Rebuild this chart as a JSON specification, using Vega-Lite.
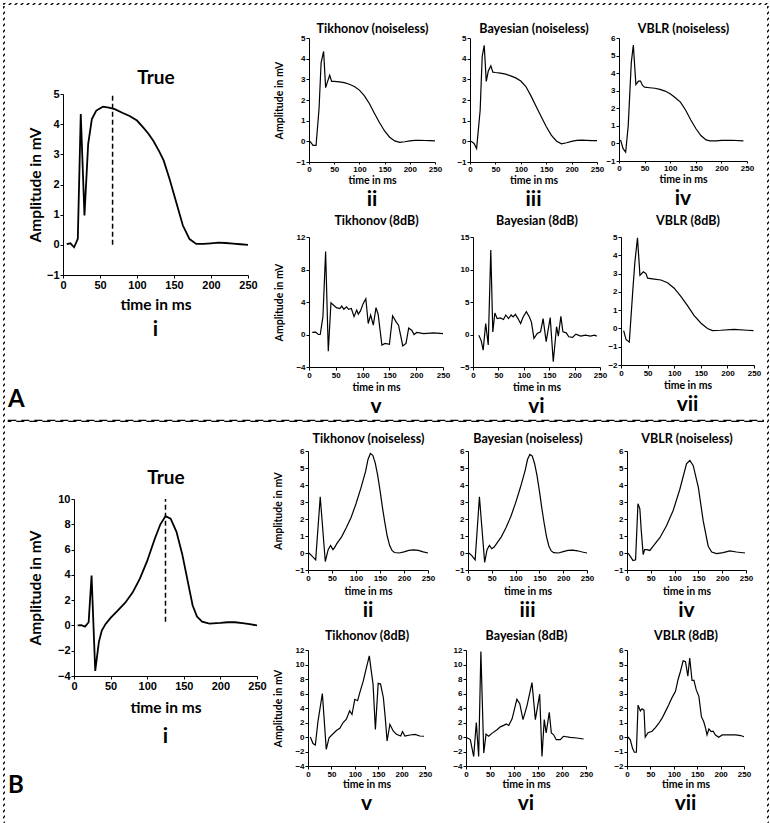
{
"$schema": "https://vega.github.io/schema/vega-lite/v6.json",
"padding": {"left": 2, "top": 2, "right": 0, "bottom": 0},
"background": "white",
"datasets": {
"A1": [{"t":5,"v":0.02},{"t":10,"v":0.05},{"t":15,"v":-0.08},{"t":20,"v":0.2},{"t":24,"v":4.34},{"t":29,"v":0.97},{"t":34,"v":3.34},{"t":39,"v":4.17},{"t":45,"v":4.45},{"t":54,"v":4.58},{"t":62,"v":4.55},{"t":70,"v":4.5},{"t":80,"v":4.38},{"t":90,"v":4.27},{"t":100,"v":4.12},{"t":108,"v":3.9},{"t":115,"v":3.7},{"t":122,"v":3.45},{"t":130,"v":3.1},{"t":136,"v":2.8},{"t":144,"v":2.18},{"t":153,"v":1.41},{"t":162,"v":0.64},{"t":171,"v":0.19},{"t":180,"v":0.03},{"t":190,"v":0.03},{"t":200,"v":0.05},{"t":210,"v":0.07},{"t":220,"v":0.06},{"t":230,"v":0.04},{"t":240,"v":0.02},{"t":250,"v":0.0}],
"A1m": [{"t":67,"a":0,"b":5}],
"A2": [{"t":2,"v":0},{"t":8,"v":-0.2},{"t":14,"v":-0.2},{"t":20,"v":1.6},{"t":24,"v":3.8},{"t":29,"v":4.35},{"t":33,"v":2.6},{"t":37,"v":2.9},{"t":41,"v":3.2},{"t":45,"v":2.9},{"t":50,"v":2.9},{"t":60,"v":2.88},{"t":70,"v":2.84},{"t":80,"v":2.76},{"t":90,"v":2.65},{"t":100,"v":2.48},{"t":110,"v":2.2},{"t":120,"v":1.82},{"t":130,"v":1.35},{"t":140,"v":0.9},{"t":150,"v":0.5},{"t":160,"v":0.2},{"t":170,"v":0.02},{"t":180,"v":-0.05},{"t":190,"v":-0.02},{"t":200,"v":0.02},{"t":210,"v":0.05},{"t":220,"v":0.05},{"t":230,"v":0.04},{"t":240,"v":0.03},{"t":250,"v":0.02}],
"A3": [{"t":2,"v":0},{"t":8,"v":-0.1},{"t":13,"v":-0.35},{"t":20,"v":1.5},{"t":24,"v":4.1},{"t":28,"v":4.65},{"t":32,"v":2.9},{"t":36,"v":3.4},{"t":41,"v":3.65},{"t":45,"v":3.35},{"t":50,"v":3.33},{"t":60,"v":3.3},{"t":70,"v":3.25},{"t":80,"v":3.17},{"t":90,"v":3.07},{"t":100,"v":2.92},{"t":110,"v":2.65},{"t":120,"v":2.2},{"t":130,"v":1.7},{"t":140,"v":1.2},{"t":150,"v":0.72},{"t":160,"v":0.3},{"t":170,"v":0.02},{"t":180,"v":-0.12},{"t":190,"v":-0.07},{"t":200,"v":0.0},{"t":210,"v":0.05},{"t":220,"v":0.06},{"t":230,"v":0.05},{"t":240,"v":0.03},{"t":250,"v":0.03}],
"A4": [{"t":3,"v":0.2},{"t":8,"v":-0.3},{"t":13,"v":-0.5},{"t":18,"v":1.0},{"t":24,"v":4.6},{"t":28,"v":5.6},{"t":33,"v":3.35},{"t":38,"v":3.55},{"t":42,"v":3.55},{"t":46,"v":3.3},{"t":50,"v":3.2},{"t":60,"v":3.17},{"t":70,"v":3.14},{"t":80,"v":3.08},{"t":90,"v":2.98},{"t":100,"v":2.83},{"t":110,"v":2.6},{"t":120,"v":2.35},{"t":130,"v":1.9},{"t":140,"v":1.35},{"t":150,"v":0.85},{"t":160,"v":0.45},{"t":170,"v":0.2},{"t":178,"v":0.15},{"t":190,"v":0.15},{"t":200,"v":0.17},{"t":220,"v":0.18},{"t":243,"v":0.15}],
"A5": [{"t":6,"v":0.25},{"t":12.5,"v":0.3},{"t":17.5,"v":0.0},{"t":21,"v":0.0},{"t":26,"v":2.2},{"t":31,"v":10.2},{"t":36,"v":-2.05},{"t":41,"v":3.9},{"t":46,"v":3.6},{"t":51,"v":3.3},{"t":57.5,"v":3.2},{"t":61,"v":3.5},{"t":65,"v":3.1},{"t":70,"v":3.4},{"t":74,"v":3.1},{"t":79,"v":3.2},{"t":84,"v":2.2},{"t":89,"v":3.0},{"t":92,"v":2.5},{"t":96,"v":2.9},{"t":101,"v":3.8},{"t":106,"v":4.4},{"t":110.5,"v":1.35},{"t":115,"v":2.4},{"t":120,"v":1.15},{"t":125,"v":3.3},{"t":129,"v":2.5},{"t":136,"v":-1.3},{"t":142,"v":-1.1},{"t":150,"v":-1.2},{"t":156,"v":2.3},{"t":162.5,"v":1.55},{"t":167,"v":1.15},{"t":175,"v":-1.4},{"t":181,"v":-1.1},{"t":186,"v":0.8},{"t":192,"v":0.5},{"t":196,"v":0.0},{"t":201,"v":0.25},{"t":214,"v":0.1},{"t":232.5,"v":0.2},{"t":250,"v":0.1}],
"A6": [{"t":11.4,"v":-0.1},{"t":16,"v":-0.9},{"t":20,"v":-2.4},{"t":25,"v":1.7},{"t":30,"v":-1.6},{"t":35,"v":13.0},{"t":39,"v":0.4},{"t":43,"v":3.3},{"t":47.5,"v":2.45},{"t":54,"v":2.55},{"t":60,"v":2.3},{"t":64.5,"v":3.0},{"t":70,"v":2.45},{"t":75,"v":3.0},{"t":79,"v":2.7},{"t":83.5,"v":3.1},{"t":88.6,"v":2.45},{"t":93.7,"v":1.7},{"t":98.7,"v":2.7},{"t":105,"v":3.5},{"t":111,"v":2.7},{"t":115,"v":1.9},{"t":120,"v":-0.6},{"t":126.6,"v":0.15},{"t":133,"v":0.4},{"t":138,"v":2.45},{"t":144,"v":-1.1},{"t":152,"v":2.6},{"t":158,"v":-4.2},{"t":164.5,"v":1.2},{"t":168,"v":-0.25},{"t":173,"v":2.8},{"t":177,"v":0.4},{"t":183.5,"v":0.25},{"t":188.6,"v":-0.35},{"t":196,"v":-0.45},{"t":202.5,"v":0.05},{"t":212,"v":-0.25},{"t":221.5,"v":-0.1},{"t":231,"v":-0.25},{"t":239,"v":-0.1},{"t":243.7,"v":-0.25}],
"A7": [{"t":5,"v":-0.12},{"t":9.4,"v":-0.6},{"t":15.6,"v":-0.75},{"t":22,"v":2.0},{"t":26,"v":3.6},{"t":31,"v":4.95},{"t":35.6,"v":2.9},{"t":42,"v":3.1},{"t":47,"v":3.0},{"t":50,"v":2.75},{"t":62.5,"v":2.7},{"t":75,"v":2.65},{"t":87.5,"v":2.5},{"t":100,"v":2.2},{"t":112.5,"v":1.75},{"t":125,"v":1.25},{"t":137.5,"v":0.7},{"t":150,"v":0.3},{"t":162.5,"v":0.0},{"t":172,"v":-0.12},{"t":187.5,"v":-0.1},{"t":212.5,"v":-0.05},{"t":237.5,"v":-0.1},{"t":249,"v":-0.12}],
"B1": [{"t":5,"v":0},{"t":10,"v":0.02},{"t":15,"v":-0.1},{"t":20,"v":0.25},{"t":24,"v":3.95},{"t":29,"v":-3.6},{"t":34,"v":-1.3},{"t":38,"v":-0.4},{"t":43,"v":0.1},{"t":50,"v":0.6},{"t":60,"v":1.2},{"t":70,"v":1.8},{"t":80,"v":2.6},{"t":90,"v":3.7},{"t":100,"v":5.1},{"t":110,"v":6.8},{"t":118,"v":8.0},{"t":125,"v":8.65},{"t":132,"v":8.45},{"t":140,"v":7.4},{"t":148,"v":5.6},{"t":155,"v":3.6},{"t":162,"v":1.6},{"t":168,"v":0.7},{"t":175,"v":0.3},{"t":185,"v":0.15},{"t":200,"v":0.2},{"t":210,"v":0.25},{"t":220,"v":0.25},{"t":230,"v":0.18},{"t":240,"v":0.1},{"t":250,"v":0.0}],
"B1m": [{"t":125,"a":0.3,"b":10}],
"B2": [{"t":2,"v":0},{"t":9,"v":-0.2},{"t":16,"v":-0.4},{"t":25.5,"v":3.3},{"t":36,"v":-0.5},{"t":42,"v":0.2},{"t":47,"v":0.45},{"t":52,"v":0.2},{"t":55,"v":0.3},{"t":60,"v":0.55},{"t":70,"v":0.95},{"t":80,"v":1.5},{"t":90,"v":2.1},{"t":100,"v":2.9},{"t":110,"v":3.8},{"t":115,"v":4.3},{"t":120,"v":4.8},{"t":125,"v":5.5},{"t":130,"v":5.85},{"t":135,"v":5.75},{"t":140,"v":5.3},{"t":145,"v":4.6},{"t":150,"v":3.7},{"t":155,"v":2.7},{"t":160,"v":1.8},{"t":165,"v":1.0},{"t":170,"v":0.45},{"t":175,"v":0.15},{"t":180,"v":0.03},{"t":190,"v":0.0},{"t":200,"v":0.07},{"t":210,"v":0.15},{"t":220,"v":0.18},{"t":230,"v":0.15},{"t":240,"v":0.07},{"t":250,"v":0.0}],
"B3": [{"t":2,"v":0},{"t":8,"v":-0.15},{"t":15,"v":-0.4},{"t":24,"v":3.3},{"t":35,"v":-0.55},{"t":40,"v":0.2},{"t":45,"v":0.45},{"t":50,"v":0.25},{"t":55,"v":0.35},{"t":60,"v":0.55},{"t":70,"v":0.95},{"t":80,"v":1.5},{"t":90,"v":2.15},{"t":100,"v":2.95},{"t":110,"v":3.85},{"t":120,"v":4.85},{"t":125,"v":5.5},{"t":130,"v":5.8},{"t":135,"v":5.7},{"t":140,"v":5.25},{"t":145,"v":4.55},{"t":150,"v":3.65},{"t":155,"v":2.65},{"t":160,"v":1.75},{"t":165,"v":0.95},{"t":170,"v":0.4},{"t":175,"v":0.12},{"t":180,"v":0.02},{"t":190,"v":0.0},{"t":200,"v":0.08},{"t":210,"v":0.15},{"t":220,"v":0.17},{"t":230,"v":0.13},{"t":240,"v":0.06},{"t":250,"v":0.0}],
"B4": [{"t":2,"v":0},{"t":7,"v":-0.2},{"t":12.6,"v":-0.45},{"t":18,"v":-0.4},{"t":23,"v":2.9},{"t":27,"v":2.6},{"t":30,"v":1.3},{"t":34,"v":-0.1},{"t":37,"v":0.2},{"t":42,"v":0.2},{"t":48,"v":0.15},{"t":55,"v":0.4},{"t":69,"v":0.9},{"t":83,"v":1.6},{"t":97,"v":2.5},{"t":111,"v":3.75},{"t":125,"v":5.25},{"t":132,"v":5.45},{"t":139,"v":5.15},{"t":150,"v":3.85},{"t":160,"v":1.9},{"t":170.6,"v":0.4},{"t":178,"v":0.06},{"t":188,"v":-0.04},{"t":202,"v":0.02},{"t":216,"v":0.12},{"t":230,"v":0.06},{"t":248,"v":0}],
"B5": [{"t":5,"v":0},{"t":10.7,"v":-0.9},{"t":15.7,"v":-1.1},{"t":21.4,"v":2.2},{"t":30.7,"v":6.0},{"t":39,"v":-1.7},{"t":45,"v":-0.1},{"t":53.6,"v":0.45},{"t":60.7,"v":0.9},{"t":68,"v":1.2},{"t":75,"v":2.0},{"t":82,"v":2.45},{"t":89,"v":3.6},{"t":94,"v":3.1},{"t":100,"v":5.2},{"t":106,"v":5.0},{"t":111,"v":6.2},{"t":118,"v":7.7},{"t":125,"v":9.6},{"t":131,"v":11.2},{"t":136,"v":8.7},{"t":139,"v":7.3},{"t":144,"v":1.05},{"t":150,"v":7.4},{"t":155,"v":7.3},{"t":161,"v":5.45},{"t":165,"v":2.7},{"t":169,"v":-0.55},{"t":175,"v":1.75},{"t":182,"v":0.83},{"t":189,"v":0.37},{"t":198,"v":0.14},{"t":202,"v":0.75},{"t":207,"v":0.14},{"t":218,"v":0.28},{"t":228.6,"v":0.37},{"t":239,"v":0.14},{"t":248,"v":0.1}],
"B6": [{"t":2,"v":-0.1},{"t":9,"v":-0.35},{"t":16,"v":-2.7},{"t":21.5,"v":2.0},{"t":26.4,"v":-2.7},{"t":31,"v":11.8},{"t":37,"v":-2.2},{"t":41.7,"v":0.4},{"t":47,"v":0.1},{"t":54,"v":0.5},{"t":64.6,"v":1.0},{"t":71.5,"v":1.4},{"t":78.5,"v":1.6},{"t":84,"v":1.8},{"t":89,"v":1.6},{"t":96,"v":2.5},{"t":106,"v":5.2},{"t":112,"v":4.6},{"t":118.75,"v":2.4},{"t":127,"v":4.3},{"t":137.5,"v":7.5},{"t":144.5,"v":2.4},{"t":153.5,"v":5.9},{"t":158.3,"v":-2.7},{"t":163,"v":2.4},{"t":167,"v":0.55},{"t":173.5,"v":3.4},{"t":177.8,"v":0.55},{"t":182.6,"v":0.3},{"t":188,"v":-0.37},{"t":196.5,"v":-0.37},{"t":203,"v":0.1},{"t":217,"v":-0.05},{"t":231,"v":-0.14},{"t":245,"v":-0.28}],
"B7": [{"t":2,"v":0},{"t":7,"v":-0.2},{"t":12,"v":-0.8},{"t":15.7,"v":-1.05},{"t":20,"v":-1.05},{"t":23.6,"v":2.2},{"t":28.6,"v":1.8},{"t":32,"v":1.95},{"t":36.4,"v":1.85},{"t":39,"v":0},{"t":45,"v":0.3},{"t":53.6,"v":0.4},{"t":60.7,"v":0.65},{"t":68,"v":0.95},{"t":75,"v":1.3},{"t":82,"v":1.75},{"t":89,"v":2.2},{"t":96,"v":2.7},{"t":103.6,"v":3.15},{"t":109,"v":3.95},{"t":114,"v":4.5},{"t":120,"v":5.25},{"t":125,"v":5.2},{"t":130,"v":4.2},{"t":134,"v":5.45},{"t":139,"v":3.9},{"t":143,"v":3.9},{"t":148,"v":3.25},{"t":153.6,"v":2.8},{"t":159,"v":1.4},{"t":164,"v":1.05},{"t":168,"v":0.6},{"t":171,"v":0.15},{"t":175,"v":0.55},{"t":180,"v":0.37},{"t":184,"v":0.4},{"t":189,"v":0.14},{"t":196,"v":-0.02},{"t":203.6,"v":0.14},{"t":218,"v":0.14},{"t":232,"v":0.14},{"t":243,"v":0.1},{"t":250,"v":0.02}]
},
"spacing": 0,
"vconcat": [
{"width": 765, "height": 1, "data": {"values": []}, "mark": "point", "view": {"stroke": "black", "strokeDash": [2, 4], "strokeWidth": 1}},
{"hconcat": [
{"width": 1, "height": 816, "data": {"values": []}, "mark": "point", "view": {"stroke": "black", "strokeDash": [2, 4], "strokeWidth": 1}},
{"vconcat": [
{"width": 1, "height": 1, "data": {"values": []}, "mark": "point"},
{"vconcat": [
{"hconcat": [
 {"width": 1, "height": 346, "data": {"values": []}, "mark": "point", "title": {"text": "A", "orient": "bottom", "anchor": "start", "fontSize": 24, "offset": 4}},
 {"hconcat": [
  {"vconcat": [
    {"width": 185, "height": 13, "data": {"values": []}, "mark": "point"},
    {"width": 185, "height": 181,
     "title": {"text": "i", "orient": "bottom", "fontSize": 21, "offset": 6},
     "layer": [
      {"data": {"name": "A1"}, "mark": {"type": "line", "strokeWidth": 1.8, "color": "black"},
       "encoding": {
        "x": {"field": "t", "type": "quantitative", "scale": {"domain": [0, 250], "nice": false}, "axis": {"values": [0, 50, 100, 150, 200, 250], "title": "time in ms", "labelFontSize": 11, "titleFontSize": 15.5, "titlePadding": 7}},
        "y": {"field": "v", "type": "quantitative", "scale": {"domain": [-1, 5], "nice": false, "zero": false}, "axis": {"values": [-1, 0, 1, 2, 3, 4, 5], "title": "Amplitude in mV", "labelFontSize": 11, "titleFontSize": 15.5, "titlePadding": 2.5}}}},
      {"data": {"name": "A1m"}, "mark": {"type": "rule", "strokeDash": [5, 3], "strokeWidth": 1.5, "color": "black"},
       "encoding": {
        "x": {"field": "t", "type": "quantitative", "axis": {"orient": "top", "title": "True", "labels": false, "ticks": false, "domain": false, "titleFontSize": 19, "titlePadding": 7}},
        "y": {"field": "a", "type": "quantitative", "axis": {"values": [-1, 0, 1, 2, 3, 4, 5], "title": "Amplitude in mV", "labelFontSize": 11, "titleFontSize": 15.5, "titlePadding": 2.5}},
        "y2": {"field": "b"}}}
     ],
     "resolve": {"axis": {"x": "independent"}}}
  ], "spacing": 17},
  {"vconcat": [
    {"hconcat": [
      {"width": 126, "height": 124, "data": {"name": "A2"}, "title": {"text": "ii", "orient": "bottom", "fontSize": 21, "offset": 3},
       "layer": [
        {"mark": {"type": "line", "strokeWidth": 1.2, "color": "black"}, "encoding": {
          "x": {"field": "t", "type": "quantitative", "scale": {"domain": [0, 250], "nice": false}, "axis": {"values": [0, 50, 100, 150, 200, 250], "title": "time in ms", "labelFontSize": 8, "titleFontSize": 10.5, "titlePadding": 2, "tickSize": 2}},
          "y": {"field": "v", "type": "quantitative", "scale": {"domain": [-1, 5], "nice": false, "zero": false}, "axis": {"values": [-1, 0, 1, 2, 3, 4, 5], "title": "Amplitude in mV", "labelFontSize": 8, "titleFontSize": 10.5, "titlePadding": 11.5}}}},
        {"mark": {"type": "line", "opacity": 0}, "encoding": {"x": {"field": "t", "type": "quantitative", "axis": {"orient": "top", "title": "Tikhonov (noiseless)", "labels": false, "ticks": false, "domain": false, "titleFontSize": 12.5, "titlePadding": 3}}}}
       ], "resolve": {"axis": {"x": "independent"}}},
      {"hconcat": [
      {"width": 127, "height": 124, "data": {"name": "A3"}, "title": {"text": "iii", "orient": "bottom", "fontSize": 21, "offset": 3},
       "layer": [
        {"mark": {"type": "line", "strokeWidth": 1.2, "color": "black"}, "encoding": {
          "x": {"field": "t", "type": "quantitative", "scale": {"domain": [0, 250], "nice": false}, "axis": {"values": [0, 50, 100, 150, 200, 250], "title": "time in ms", "labelFontSize": 8, "titleFontSize": 10.5, "titlePadding": 2, "tickSize": 2}},
          "y": {"field": "v", "type": "quantitative", "scale": {"domain": [-1, 5], "nice": false, "zero": false}, "axis": {"values": [-1, 0, 1, 2, 3, 4, 5], "title": null, "labelFontSize": 8}}}},
        {"mark": {"type": "line", "opacity": 0}, "encoding": {"x": {"field": "t", "type": "quantitative", "axis": {"orient": "top", "title": "Bayesian (noiseless)", "labels": false, "ticks": false, "domain": false, "titleFontSize": 12.5, "titlePadding": 3}}}}
       ], "resolve": {"axis": {"x": "independent"}}},
      {"width": 128, "height": 123, "data": {"name": "A4"}, "title": {"text": "iv", "orient": "bottom", "fontSize": 21, "offset": 3},
       "layer": [
        {"mark": {"type": "line", "strokeWidth": 1.2, "color": "black"}, "encoding": {
          "x": {"field": "t", "type": "quantitative", "scale": {"domain": [0, 250], "nice": false}, "axis": {"values": [0, 50, 100, 150, 200, 250], "title": "time in ms", "labelFontSize": 8, "titleFontSize": 10.5, "titlePadding": 2, "tickSize": 2}},
          "y": {"field": "v", "type": "quantitative", "scale": {"domain": [-1, 6], "nice": false, "zero": false}, "axis": {"values": [-1, 0, 1, 2, 3, 4, 5, 6], "title": null, "labelFontSize": 8}}}},
        {"mark": {"type": "line", "opacity": 0}, "encoding": {"x": {"field": "t", "type": "quantitative", "axis": {"orient": "top", "title": "VBLR (noiseless)", "labels": false, "ticks": false, "domain": false, "titleFontSize": 12.5, "titlePadding": 3}}}}
       ], "resolve": {"axis": {"x": "independent"}}}
      ], "spacing": 1}
    ], "spacing": 14},
    {"hconcat": [
      {"width": 134, "height": 130, "data": {"name": "A5"}, "title": {"text": "v", "orient": "bottom", "fontSize": 21, "offset": 3},
       "layer": [
        {"mark": {"type": "line", "strokeWidth": 1.2, "color": "black"}, "encoding": {
          "x": {"field": "t", "type": "quantitative", "scale": {"domain": [0, 250], "nice": false}, "axis": {"values": [0, 50, 100, 150, 200, 250], "title": "time in ms", "labelFontSize": 8, "titleFontSize": 10.5, "titlePadding": 3}},
          "y": {"field": "v", "type": "quantitative", "scale": {"domain": [-4, 12], "nice": false, "zero": false}, "axis": {"values": [-4, 0, 4, 8, 12], "title": "Amplitude in mV", "labelFontSize": 8, "titleFontSize": 10.5, "titlePadding": 11.5}}}},
        {"mark": {"type": "line", "opacity": 0}, "encoding": {"x": {"field": "t", "type": "quantitative", "axis": {"orient": "top", "title": "Tikhonov (8dB)", "labels": false, "ticks": false, "domain": false, "titleFontSize": 12.5, "titlePadding": 10}}}}
       ], "resolve": {"axis": {"x": "independent"}}},
      {"hconcat": [
      {"width": 127, "height": 130, "data": {"name": "A6"}, "title": {"text": "vi", "orient": "bottom", "fontSize": 21, "offset": 3},
       "layer": [
        {"mark": {"type": "line", "strokeWidth": 1.2, "color": "black"}, "encoding": {
          "x": {"field": "t", "type": "quantitative", "scale": {"domain": [0, 250], "nice": false}, "axis": {"values": [0, 50, 100, 150, 200, 250], "title": "time in ms", "labelFontSize": 8, "titleFontSize": 10.5, "titlePadding": 3}},
          "y": {"field": "v", "type": "quantitative", "scale": {"domain": [-5, 15], "nice": false, "zero": false}, "axis": {"values": [-5, 0, 5, 10, 15], "title": null, "labelFontSize": 8}}}},
        {"mark": {"type": "line", "opacity": 0}, "encoding": {"x": {"field": "t", "type": "quantitative", "axis": {"orient": "top", "title": "Bayesian (8dB)", "labels": false, "ticks": false, "domain": false, "titleFontSize": 12.5, "titlePadding": 10}}}}
       ], "resolve": {"axis": {"x": "independent"}}},
      {"width": 133, "height": 128, "data": {"name": "A7"}, "title": {"text": "vii", "orient": "bottom", "fontSize": 21, "offset": 3},
       "layer": [
        {"mark": {"type": "line", "strokeWidth": 1.2, "color": "black"}, "encoding": {
          "x": {"field": "t", "type": "quantitative", "scale": {"domain": [0, 250], "nice": false}, "axis": {"values": [0, 50, 100, 150, 200, 250], "title": "time in ms", "labelFontSize": 8, "titleFontSize": 10.5, "titlePadding": 3}},
          "y": {"field": "v", "type": "quantitative", "scale": {"domain": [-2, 5], "nice": false, "zero": false}, "axis": {"values": [-2, -1, 0, 1, 2, 3, 4, 5], "title": null, "labelFontSize": 8}}}},
        {"mark": {"type": "line", "opacity": 0}, "encoding": {"x": {"field": "t", "type": "quantitative", "axis": {"orient": "top", "title": "VBLR (8dB)", "labels": false, "ticks": false, "domain": false, "titleFontSize": 12.5, "titlePadding": 10}}}}
       ], "resolve": {"axis": {"x": "independent"}}}
      ], "spacing": 0}
    ], "spacing": 9}
  ], "spacing": 4}
 ], "spacing": 16}
], "spacing": 3},
{"vconcat": [
{"width": 755, "height": 1, "data": {"values": []}, "mark": "point", "view": {"stroke": "black", "strokeDash": [8, 5], "strokeWidth": 1.2}},
{"hconcat": [
 {"width": 1, "height": 319, "data": {"values": []}, "mark": "point", "title": {"text": "B", "orient": "bottom", "anchor": "start", "fontSize": 24, "offset": 4}},
 {"hconcat": [
  {"vconcat": [
    {"width": 183, "height": 3, "data": {"values": []}, "mark": "point"},
    {"width": 183, "height": 177,
     "title": {"text": "i", "orient": "bottom", "fontSize": 21, "offset": 10},
     "layer": [
      {"data": {"name": "B1"}, "mark": {"type": "line", "strokeWidth": 1.8, "color": "black"},
       "encoding": {
        "x": {"field": "t", "type": "quantitative", "scale": {"domain": [0, 250], "nice": false}, "axis": {"values": [0, 50, 100, 150, 200, 250], "title": "time in ms", "labelFontSize": 11, "titleFontSize": 15.5, "titlePadding": 9}},
        "y": {"field": "v", "type": "quantitative", "scale": {"domain": [-4, 10], "nice": false, "zero": false}, "axis": {"values": [-4, -2, 0, 2, 4, 6, 8, 10], "title": "Amplitude in mV", "labelFontSize": 11, "titleFontSize": 15.5, "titlePadding": 14}}}},
      {"data": {"name": "B1m"}, "mark": {"type": "rule", "strokeDash": [5, 3], "strokeWidth": 1.5, "color": "black"},
       "encoding": {
        "x": {"field": "t", "type": "quantitative", "axis": {"orient": "top", "title": "True", "labels": false, "ticks": false, "domain": false, "titleFontSize": 19, "titlePadding": 12}},
        "y": {"field": "a", "type": "quantitative", "axis": {"values": [-4, -2, 0, 2, 4, 6, 8, 10], "title": "Amplitude in mV", "labelFontSize": 11, "titleFontSize": 15.5, "titlePadding": 14}},
        "y2": {"field": "b"}}}
     ],
     "resolve": {"axis": {"x": "independent"}}}
  ], "spacing": 14},
  {"vconcat": [
    {"hconcat": [
      {"width": 120, "height": 119, "data": {"name": "B2"}, "title": {"text": "ii", "orient": "bottom", "fontSize": 21, "offset": 3},
       "layer": [
        {"mark": {"type": "line", "strokeWidth": 1.2, "color": "black"}, "encoding": {
          "x": {"field": "t", "type": "quantitative", "scale": {"domain": [0, 250], "nice": false}, "axis": {"values": [0, 50, 100, 150, 200, 250], "title": "time in ms", "labelFontSize": 8, "titleFontSize": 10.5, "titlePadding": 4}},
          "y": {"field": "v", "type": "quantitative", "scale": {"domain": [-1, 6], "nice": false, "zero": false}, "axis": {"values": [-1, 0, 1, 2, 3, 4, 5, 6], "title": "Amplitude in mV", "labelFontSize": 8, "titleFontSize": 10.5, "titlePadding": 11.5}}}},
        {"mark": {"type": "line", "opacity": 0}, "encoding": {"x": {"field": "t", "type": "quantitative", "axis": {"orient": "top", "title": "Tikhonov (noiseless)", "labels": false, "ticks": false, "domain": false, "titleFontSize": 12.5, "titlePadding": 6}}}}
       ], "resolve": {"axis": {"x": "independent"}}},
      {"width": 119, "height": 119, "data": {"name": "B3"}, "title": {"text": "iii", "orient": "bottom", "fontSize": 21, "offset": 3},
       "layer": [
        {"mark": {"type": "line", "strokeWidth": 1.2, "color": "black"}, "encoding": {
          "x": {"field": "t", "type": "quantitative", "scale": {"domain": [0, 250], "nice": false}, "axis": {"values": [0, 50, 100, 150, 200, 250], "title": "time in ms", "labelFontSize": 8, "titleFontSize": 10.5, "titlePadding": 4}},
          "y": {"field": "v", "type": "quantitative", "scale": {"domain": [-1, 6], "nice": false, "zero": false}, "axis": {"values": [-1, 0, 1, 2, 3, 4, 5, 6], "title": null, "labelFontSize": 8}}}},
        {"mark": {"type": "line", "opacity": 0}, "encoding": {"x": {"field": "t", "type": "quantitative", "axis": {"orient": "top", "title": "Bayesian (noiseless)", "labels": false, "ticks": false, "domain": false, "titleFontSize": 12.5, "titlePadding": 6}}}}
       ], "resolve": {"axis": {"x": "independent"}}},
      {"width": 119, "height": 119, "data": {"name": "B4"}, "title": {"text": "iv", "orient": "bottom", "fontSize": 21, "offset": 3},
       "layer": [
        {"mark": {"type": "line", "strokeWidth": 1.2, "color": "black"}, "encoding": {
          "x": {"field": "t", "type": "quantitative", "scale": {"domain": [0, 250], "nice": false}, "axis": {"values": [0, 50, 100, 150, 200, 250], "title": "time in ms", "labelFontSize": 8, "titleFontSize": 10.5, "titlePadding": 4}},
          "y": {"field": "v", "type": "quantitative", "scale": {"domain": [-1, 6], "nice": false, "zero": false}, "axis": {"values": [-1, 0, 1, 2, 3, 4, 5, 6], "title": null, "labelFontSize": 8}}}},
        {"mark": {"type": "line", "opacity": 0}, "encoding": {"x": {"field": "t", "type": "quantitative", "axis": {"orient": "top", "title": "VBLR (noiseless)", "labels": false, "ticks": false, "domain": false, "titleFontSize": 12.5, "titlePadding": 6}}}}
       ], "resolve": {"axis": {"x": "independent"}}}
    ], "spacing": 19},
    {"hconcat": [
      {"width": 117, "height": 116, "data": {"name": "B5"}, "title": {"text": "v", "orient": "bottom", "fontSize": 21, "offset": 3},
       "layer": [
        {"mark": {"type": "line", "strokeWidth": 1.2, "color": "black"}, "encoding": {
          "x": {"field": "t", "type": "quantitative", "scale": {"domain": [0, 250], "nice": false}, "axis": {"values": [0, 50, 100, 150, 200, 250], "title": "time in ms", "labelFontSize": 8, "titleFontSize": 10.5, "titlePadding": 1}},
          "y": {"field": "v", "type": "quantitative", "scale": {"domain": [-4, 12], "nice": false, "zero": false}, "axis": {"values": [-4, -2, 0, 2, 4, 6, 8, 10, 12], "title": "Amplitude in mV", "labelFontSize": 8, "titleFontSize": 10.5, "titlePadding": 11.5}}}},
        {"mark": {"type": "line", "opacity": 0}, "encoding": {"x": {"field": "t", "type": "quantitative", "axis": {"orient": "top", "title": "Tikhonov (8dB)", "labels": false, "ticks": false, "domain": false, "titleFontSize": 12.5, "titlePadding": 8}}}}
       ], "resolve": {"axis": {"x": "independent"}}},
      {"width": 120, "height": 116, "data": {"name": "B6"}, "title": {"text": "vi", "orient": "bottom", "fontSize": 21, "offset": 3},
       "layer": [
        {"mark": {"type": "line", "strokeWidth": 1.2, "color": "black"}, "encoding": {
          "x": {"field": "t", "type": "quantitative", "scale": {"domain": [0, 250], "nice": false}, "axis": {"values": [0, 50, 100, 150, 200, 250], "title": "time in ms", "labelFontSize": 8, "titleFontSize": 10.5, "titlePadding": 1}},
          "y": {"field": "v", "type": "quantitative", "scale": {"domain": [-4, 12], "nice": false, "zero": false}, "axis": {"values": [-4, -2, 0, 2, 4, 6, 8, 10, 12], "title": null, "labelFontSize": 8}}}},
        {"mark": {"type": "line", "opacity": 0}, "encoding": {"x": {"field": "t", "type": "quantitative", "axis": {"orient": "top", "title": "Bayesian (8dB)", "labels": false, "ticks": false, "domain": false, "titleFontSize": 12.5, "titlePadding": 8}}}}
       ], "resolve": {"axis": {"x": "independent"}}},
      {"width": 117, "height": 116, "data": {"name": "B7"}, "title": {"text": "vii", "orient": "bottom", "fontSize": 21, "offset": 3},
       "layer": [
        {"mark": {"type": "line", "strokeWidth": 1.2, "color": "black"}, "encoding": {
          "x": {"field": "t", "type": "quantitative", "scale": {"domain": [0, 250], "nice": false}, "axis": {"values": [0, 50, 100, 150, 200, 250], "title": "time in ms", "labelFontSize": 8, "titleFontSize": 10.5, "titlePadding": 1}},
          "y": {"field": "v", "type": "quantitative", "scale": {"domain": [-2, 6], "nice": false, "zero": false}, "axis": {"values": [-2, -1, 0, 1, 2, 3, 4, 5, 6], "title": null, "labelFontSize": 8}}}},
        {"mark": {"type": "line", "opacity": 0}, "encoding": {"x": {"field": "t", "type": "quantitative", "axis": {"orient": "top", "title": "VBLR (8dB)", "labels": false, "ticks": false, "domain": false, "titleFontSize": 12.5, "titlePadding": 8}}}}
       ], "resolve": {"axis": {"x": "independent"}}}
    ], "spacing": 20}
  ], "spacing": 8}
 ], "spacing": 6}
], "spacing": 4}
], "spacing": 10}
], "spacing": 2}
], "spacing": 15},
{"width": 1, "height": 816, "data": {"values": []}, "mark": "point", "view": {"stroke": "black", "strokeDash": [2, 4], "strokeWidth": 1}}
], "spacing": 2},
{"width": 765, "height": 1, "data": {"values": []}, "mark": "point", "view": {"stroke": "black", "strokeDash": [2, 4], "strokeWidth": 1}}
],
"config": {
  "view": {"stroke": null},
  "axis": {"grid": false, "domainColor": "black", "tickColor": "black", "labelColor": "black", "titleColor": "black", "labelFont": "Liberation Sans", "labelFontWeight": "bold", "titleFont": "Lato", "titleFontWeight": "bold", "tickSize": 3, "domainWidth": 1, "labelPadding": 1, "labelFlush": false, "labelOverlap": false},
  "title": {"font": "Lato", "fontWeight": "bold", "color": "black"}
}
}
